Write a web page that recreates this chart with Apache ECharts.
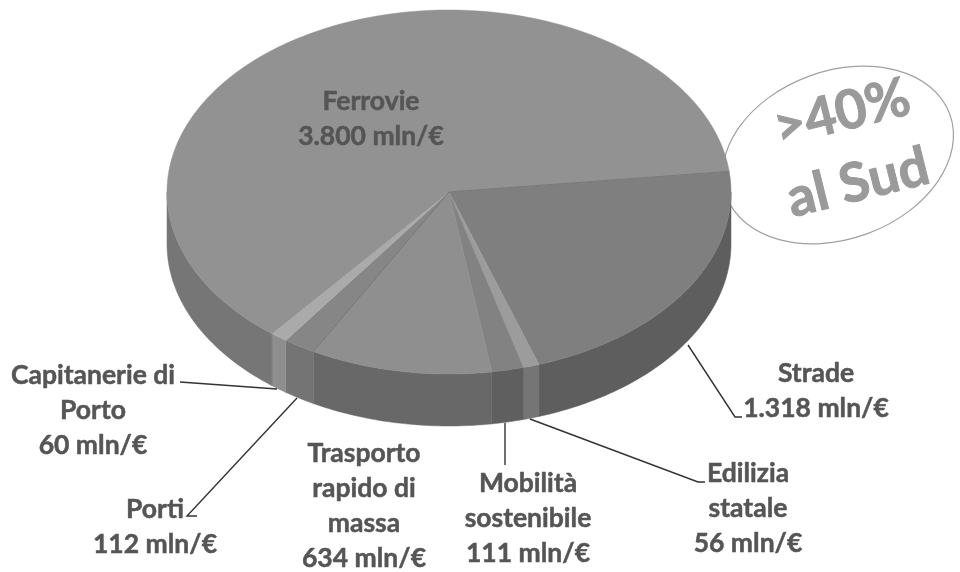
<!DOCTYPE html>
<html>
<head>
<meta charset="utf-8">
<title>Investimenti</title>
<script src="https://cdn.jsdelivr.net/npm/echarts@6/dist/echarts.min.js"></script>
<style>
  html, body { margin: 0; padding: 0; background: #fff; }
  #chart { width: 960px; height: 572px; }
</style>
</head>
<body>
<div id="chart"></div>
<script>
// values in mln/€, clockwise from the Strade slice
const sliceNames = ['Strade', 'Edilizia statale', 'Mobilità sostenibile', 'Trasporto rapido di massa', 'Porti', 'Capitanerie di Porto', 'Ferrovie'];
const sliceValues = [1318, 56, 111, 634, 112, 60, 3800];
const sliceLabels = [
    'Strade\n1.318 mln/€',
    'Edilizia\nstatale\n56 mln/€',
    'Mobilità\nsostenibile\n111 mln/€',
    'Trasporto\nrapido di\nmassa\n634 mln/€',
    'Porti\n112 mln/€',
    'Capitanerie di\nPorto\n60 mln/€',
    'Ferrovie\n3.800 mln/€',
];
const calloutLines = ['>40%', 'al Sud'];

const topColors = ['#7f7f7f', '#9c9c9c', '#828282', '#8f8f8f', '#868686', '#aaaaaa', '#929292'];
const sideColors = ['#5e5e5e', '#757575', '#5f5f5f', '#686868', '#747474', '#8e8e8e', '#767676'];

// layout of the tilted pie
const cx = 449, cy = 192, rx = 282, ry = 182, depth = 52;
const startDeg = -6.5;
const total = sliceValues.reduce((a, b) => a + b, 0);
const arcStep = 1;

const labelPos = [[816, 391], [748, 508], [528, 518], [364, 506], [155, 527], [93, 410], [371, 119]];
const leaders = [
    [[742, 417], [735, 417], [688, 345]],
    [[705, 482], [698, 482], [530, 419]],
    [[505, 465], [505, 423]],
    null,
    [[197, 516], [187, 516], [297, 398]],
    [[180, 382], [277, 389]],
    null,
];

let cum = 0;
const sliceData = sliceValues.map((v, i) => {
    const row = [v, cum, i];
    cum += v;
    return row;
});
// the two slice edges that show as a thin dark seam
const seamData = [sliceData[0], sliceData[4]];

function toDeg(v) {
    return startDeg + v / total * 360;
}

function rim(deg, dy) {
    const a = deg * Math.PI / 180;
    return [cx + rx * Math.cos(a), cy + dy + ry * Math.sin(a)];
}

function arc(from, to, dy) {
    const pts = [];
    for (let d = from; d < to; d += arcStep) pts.push(rim(d, dy));
    pts.push(rim(to, dy));
    return pts;
}

function renderTop(params, api) {
    const from = toDeg(api.value(1));
    const to = toDeg(api.value(1) + api.value(0));
    const i = api.value(2);
    return {
        type: 'polygon',
        shape: {points: [[cx, cy]].concat(arc(from, to, 0))},
        style: {fill: topColors[i], stroke: topColors[i], lineWidth: 0.5},
    };
}

function renderSide(params, api) {
    // only the front half of the rim can be seen
    const from = Math.max(toDeg(api.value(1)), 0);
    const to = Math.min(toDeg(api.value(1) + api.value(0)), 180);
    const i = api.value(2);
    if (to <= from) return null;
    return {
        type: 'polygon',
        shape: {points: arc(from, to, 0).concat(arc(from, to, depth).reverse())},
        style: {fill: sideColors[i], stroke: sideColors[i], lineWidth: 0.5},
    };
}

function renderSeam(params, api) {
    const end = rim(toDeg(api.value(1)), 0);
    return {
        type: 'line',
        shape: {x1: cx, y1: cy, x2: end[0], y2: end[1]},
        style: {stroke: '#707070', lineWidth: 0.8},
    };
}

const textColor = '#555555';
const labelFont = {fontFamily: 'Lato', fontWeight: 'bold', fontSize: 26.5, lineHeight: 35};

const labelEls = sliceLabels.map((t, i) => ({
    type: 'text',
    x: labelPos[i][0],
    y: labelPos[i][1],
    z: 10,
    style: Object.assign({
        text: t, fill: textColor, stroke: textColor, lineWidth: 0.5,
        textAlign: 'center', textVerticalAlign: 'middle',
    }, labelFont),
}));

const leaderEls = leaders.filter(Boolean).map(pts => ({
    type: 'polyline',
    z: 10,
    shape: {points: pts},
    style: {stroke: '#333333', lineWidth: 1.4, fill: 'none'},
}));

const calloutFont = {
    fill: '#9a9a9a', stroke: '#9a9a9a', lineWidth: 1,
    fontFamily: 'Lato', fontWeight: 'bold', fontSize: 54,
    textAlign: 'center', textVerticalAlign: 'middle',
};

const calloutEls = [
    {
        type: 'ellipse',
        z: -1,
        x: 838,
        y: 155,
        rotation: 20 * Math.PI / 180,
        shape: {cx: 0, cy: 0, rx: 119, ry: 84},
        style: {fill: '#fff', stroke: '#a0a0a0', lineWidth: 1.2},
    },
    {
        type: 'text',
        z: 10,
        x: 842,
        y: 113,
        rotation: 14 * Math.PI / 180,
        style: Object.assign({text: calloutLines[0]}, calloutFont),
    },
    {
        type: 'text',
        z: 10,
        x: 858,
        y: 183,
        rotation: 14 * Math.PI / 180,
        style: Object.assign({text: calloutLines[1]}, calloutFont),
    },
];

const chart = echarts.init(document.getElementById('chart'), null, {renderer: 'canvas'});
chart.setOption({
    animation: false,
    backgroundColor: '#ffffff',
    graphic: {elements: calloutEls.concat(leaderEls, labelEls)},
    series: [
        {
            type: 'custom',
            name: 'rim',
            coordinateSystem: 'none',
            z: 3,
            silent: true,
            data: sliceData,
            renderItem: renderSide,
        },
        {
            type: 'custom',
            name: 'top',
            coordinateSystem: 'none',
            z: 4,
            silent: true,
            data: sliceData,
            renderItem: renderTop,
        },
        {
            type: 'custom',
            name: 'seam',
            coordinateSystem: 'none',
            z: 5,
            silent: true,
            data: seamData,
            renderItem: renderSeam,
        },
    ],
});
</script>
</body>
</html>
